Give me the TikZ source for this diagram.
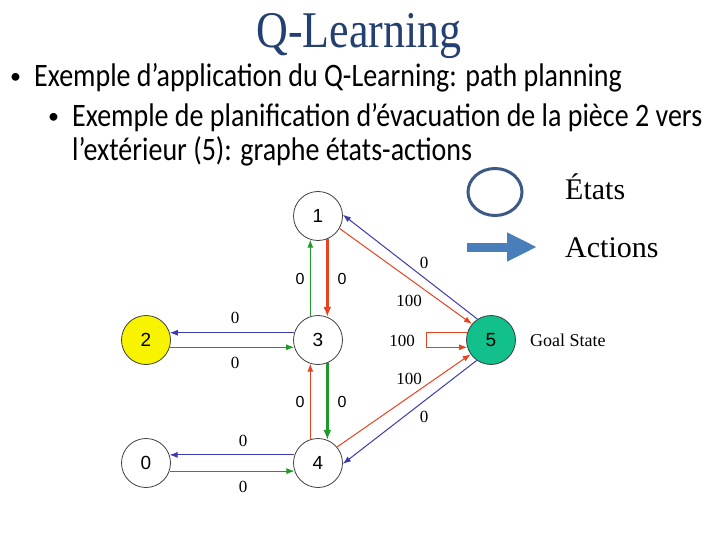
\documentclass[tikz,border=0pt]{standalone}
\usepackage{fontspec}
\setmainfont{Liberation Serif}
\setsansfont{Liberation Sans}
\newfontfamily\calibri{Carlito}
\usetikzlibrary{arrows.meta,shapes.geometric}
\definecolor{titleblue}{HTML}{243F72}
\definecolor{ered}{HTML}{E8431F}
\definecolor{egreen}{HTML}{1F9A2A}
\definecolor{eblue}{HTML}{3B3BAF}
\definecolor{goal}{HTML}{12C08C}
\definecolor{nodeyellow}{HTML}{F8F400}
\definecolor{legcirc}{HTML}{3D5A86}
\definecolor{legarrow}{HTML}{4A7EBB}
\begin{document}
\begin{tikzpicture}[x=1pt,y=-1pt,
  state/.style={circle,draw=black!75,line width=0.8pt,minimum size=49pt,inner sep=0pt,font=\sffamily\fontsize{19}{19}\selectfont},
  act/.style={-{Latex[length=8pt,width=6pt]},line width=1pt},
  actthick/.style={-{Latex[length=10pt,width=8pt]},line width=2.4pt},
  slab/.style={font=\sffamily\fontsize{16}{16}\selectfont,inner sep=0pt},
  rlab/.style={font=\fontsize{17}{17}\selectfont,inner sep=0pt},
  bullettext/.style={font=\calibri\fontsize{28}{34}\selectfont,anchor=base west,inner sep=0pt},
  bulletdot/.style={font=\calibri\fontsize{22}{22}\selectfont,anchor=base west,inner sep=0pt},
  legtext/.style={font=\fontsize{30}{30}\selectfont,anchor=base west,inner sep=0pt}]
\useasboundingbox[fill=white] (0,0) rectangle (720,540);

% title and bullets
\node[font=\fontsize{44}{44}\selectfont,text=titleblue,anchor=base,inner sep=0pt] (title) at (359,48) {\scalebox{1}[1.17]{Q-Learning}};
\node[bulletdot] (d1) at (10,84) {•};
\node[bullettext] (t1) at (34,87) {\scalebox{1}[1.17]{Exemple d’application du Q-Learning: path planning}};
\node[bulletdot] (d2) at (48,124) {•};
\node[bullettext] (t2) at (72,127) {\scalebox{1}[1.17]{Exemple de planification d’évacuation de la pièce 2 vers}};
\node[bullettext] (t3) at (72,161) {\scalebox{1}[1.17]{l’extérieur (5): graphe états-actions}};

% legend
\node[draw=legcirc,line width=3pt,ellipse,minimum width=54pt,minimum height=47pt,inner sep=0pt] (legc) at (495,192) {};
\coordinate (la0) at (467,247);
\coordinate (la1) at (537,247);
\draw[legarrow,line width=9pt,-{Triangle[length=30pt,width=27pt]}] (la0) -- (la1);
\node[legtext] (etats) at (565,200) {États};
\node[legtext] (actions) at (565,258) {Actions};

% states
\node[state] (n1) at (318,216) {1};
\node[state] (n3) at (318,340) {3};
\node[state,fill=nodeyellow] (n2) at (146,340) {2};
\node[state] (n0) at (146,463) {0};
\node[state] (n4) at (318,463) {4};
\node[state,fill=goal] (n5) at (491,340) {5};
\node[font=\fontsize{18}{18}\selectfont,anchor=base west,inner sep=0pt] (goal) at (530,346) {Goal State};

% edges 1-3
\draw[actthick,ered] (n1.-68) -- (n3.68);
\draw[act,egreen] (n3.108) -- (n1.-108);
\node[slab] (l13a) at (300,279) {0};
\node[slab] (l13b) at (342,279) {0};

% edges 3-4
\draw[act,ered] (n4.108) -- (n3.-108);
\draw[actthick,egreen] (n3.-68) -- (n4.68);
\node[slab] (l34a) at (300,402) {0};
\node[slab] (l34b) at (342,402) {0};

% edges 2-3
\draw[act,eblue] (n3.163) -- (n2.17);
\draw[act,egreen] (n2.-17) -- (n3.197);
\node[rlab] (l23a) at (235,318) {0};
\node[rlab] (l23b) at (235,363) {0};

% edges 0-4
\draw[act,eblue] (n4.161) -- (n0.19);
\draw[act,egreen] (n0.-19) -- (n4.199);
\node[rlab] (l04a) at (243,441) {0};
\node[rlab] (l04b) at (243,487) {0};

% edges 1-5
\draw[act,ered] (n1.-30) -- (n5.140);
\draw[act,eblue] (n5.123) -- (n1.3);
\node[rlab] (l15a) at (424,263) {0};
\node[rlab] (l15b) at (409,301) {100};

% self loop 5
\draw[act,ered] (n5.163) -- ++(-41,0) |- (n5.197);
\node[rlab] (l55) at (402,341) {100};

% edges 4-5
\draw[act,ered] (n4.40) -- (n5.215);
\draw[act,eblue] (n5.235) -- (n4.-2);
\node[rlab] (l45a) at (409,379) {100};
\node[rlab] (l45b) at (424,417) {0};
\end{tikzpicture}
\end{document}
